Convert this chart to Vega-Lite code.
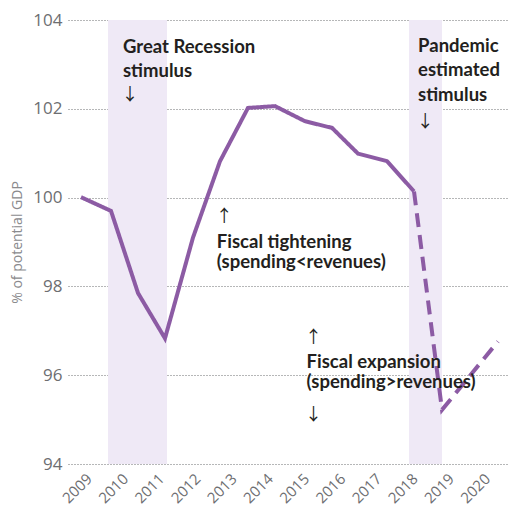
{
  "$schema": "https://vega.github.io/schema/vega-lite/v6.json",
  "width": 440,
  "height": 444,
  "autosize": {"type": "none"},
  "padding": {"left": 68, "top": 20, "right": 0, "bottom": 43},
  "background": "white",
  "config": {
    "view": {"stroke": null},
    "font": "Open Sans",
    "axisX": {
      "labelAngle": -45,
      "labelAlign": "right",
      "labelBaseline": "middle",
      "labelPadding": 12,
      "ticks": false,
      "domain": false,
      "grid": false,
      "labelFont": "Open Sans",
      "labelFontSize": 15,
      "labelColor": "#6d6e71",
      "labelOverlap": false,
      "labelFlush": false
    },
    "axisY": {
      "titleFont": "Open Sans",
      "titleFontSize": 14,
      "titleFontWeight": "normal",
      "titleColor": "#8a8a8d",
      "titlePadding": 8,
      "ticks": false,
      "domain": false,
      "grid": true,
      "gridColor": "#6d6e71",
      "gridDash": [1, 2],
      "gridWidth": 1,
      "labelFont": "Open Sans",
      "labelFontSize": 17,
      "labelColor": "#6d6e71",
      "labelPadding": 6
    }
  },
  "datasets": {
    "bands": [
      {"start": 2009.525, "end": 2011.155, "lo": 94, "hi": 104},
      {"start": 2017.84, "end": 2018.75, "lo": 94, "hi": 104}
    ],
    "series": [
      {"year": 2008.779, "value": 100.01, "part": "actual"},
      {"year": 2009.608, "value": 99.70, "part": "actual"},
      {"year": 2010.354, "value": 97.85, "part": "actual"},
      {"year": 2011.099, "value": 96.83, "part": "actual"},
      {"year": 2011.873, "value": 99.10, "part": "actual"},
      {"year": 2012.619, "value": 100.82, "part": "actual"},
      {"year": 2013.392, "value": 102.02, "part": "actual"},
      {"year": 2014.138, "value": 102.06, "part": "actual"},
      {"year": 2014.967, "value": 101.72, "part": "actual"},
      {"year": 2015.713, "value": 101.57, "part": "actual"},
      {"year": 2016.431, "value": 100.99, "part": "actual"},
      {"year": 2017.232, "value": 100.82, "part": "actual"},
      {"year": 2017.978, "value": 100.14, "part": "actual"},
      {"year": 2017.978, "value": 100.14, "part": "estimate"},
      {"year": 2018.751, "value": 95.22, "part": "estimate"},
      {"year": 2020.298, "value": 96.76, "part": "estimate"}
    ],
    "notes": [
      {"text": "Great Recession", "year": 2009.939, "value": 103.26},
      {"text": "stimulus", "year": 2009.939, "value": 102.72},
      {"text": "Pandemic", "year": 2018.09, "value": 103.27},
      {"text": "estimated", "year": 2018.09, "value": 102.73},
      {"text": "stimulus", "year": 2018.09, "value": 102.17},
      {"text": "Fiscal tightening", "year": 2012.53, "value": 98.86},
      {"text": "(spending<revenues)", "year": 2012.53, "value": 98.41},
      {"text": "Fiscal expansion", "year": 2015.01, "value": 96.17},
      {"text": "(spending>revenues)", "year": 2015.01, "value": 95.71}
    ],
    "arrows": [
      {"text": "↓", "year": 2009.9, "value": 102.2},
      {"text": "↓", "year": 2018.05, "value": 101.6},
      {"text": "↑", "year": 2012.5, "value": 99.45},
      {"text": "↑", "year": 2014.97, "value": 96.72},
      {"text": "↓", "year": 2014.97, "value": 95.0}
    ]
  },
  "layer": [
    {
      "data": {"name": "bands"},
      "mark": {"type": "rect", "color": "#efe9f6", "opacity": 1},
      "encoding": {
        "x": {
          "field": "start",
          "type": "quantitative",
          "title": null,
          "scale": {"domain": [2008.42, 2020.574], "nice": false, "zero": false},
          "axis": {"values": [2009, 2010, 2011, 2012, 2013, 2014, 2015, 2016, 2017, 2018, 2019, 2020], "format": "d", "labelOverlap": false}
        },
        "x2": {"field": "end"},
        "y": {
          "field": "lo",
          "type": "quantitative",
          "title": "% of potential GDP",
          "scale": {"domain": [94, 104], "nice": false, "zero": false},
          "axis": {"values": [94, 96, 98, 100, 102, 104]}
        },
        "y2": {"field": "hi"}
      }
    },
    {
      "data": {"name": "series"},
      "mark": {"type": "line", "color": "#8c5ba4", "strokeWidth": 4, "strokeJoin": "miter"},
      "encoding": {
        "x": {"field": "year", "type": "quantitative", "title": null, "axis": {"values": [2009, 2010, 2011, 2012, 2013, 2014, 2015, 2016, 2017, 2018, 2019, 2020], "format": "d", "labelOverlap": false}},
        "y": {"field": "value", "type": "quantitative", "title": "% of potential GDP", "axis": {"values": [94, 96, 98, 100, 102, 104]}},
        "detail": {"field": "part"},
        "strokeDash": {
          "field": "part",
          "type": "nominal",
          "scale": {"domain": ["actual", "estimate"], "range": [[1, 0], [14, 8]]},
          "legend": null
        }
      }
    },
    {
      "data": {"name": "notes"},
      "mark": {"type": "text", "align": "left", "baseline": "alphabetic", "font": "Lato", "fontSize": 18.5, "fontWeight": "bold", "color": "#231f20"},
      "encoding": {
        "x": {"field": "year", "type": "quantitative", "title": null, "axis": {"values": [2009, 2010, 2011, 2012, 2013, 2014, 2015, 2016, 2017, 2018, 2019, 2020], "format": "d", "labelOverlap": false}},
        "y": {"field": "value", "type": "quantitative", "title": "% of potential GDP", "axis": {"values": [94, 96, 98, 100, 102, 104]}},
        "text": {"field": "text"}
      }
    },
    {
      "data": {"name": "arrows"},
      "mark": {"type": "text", "align": "left", "baseline": "alphabetic", "font": "Noto Sans CJK SC", "fontSize": 17, "fontWeight": "normal", "color": "#231f20"},
      "encoding": {
        "x": {"field": "year", "type": "quantitative", "title": null, "axis": {"values": [2009, 2010, 2011, 2012, 2013, 2014, 2015, 2016, 2017, 2018, 2019, 2020], "format": "d", "labelOverlap": false}},
        "y": {"field": "value", "type": "quantitative", "title": "% of potential GDP", "axis": {"values": [94, 96, 98, 100, 102, 104]}},
        "text": {"field": "text"}
      }
    }
  ]
}
